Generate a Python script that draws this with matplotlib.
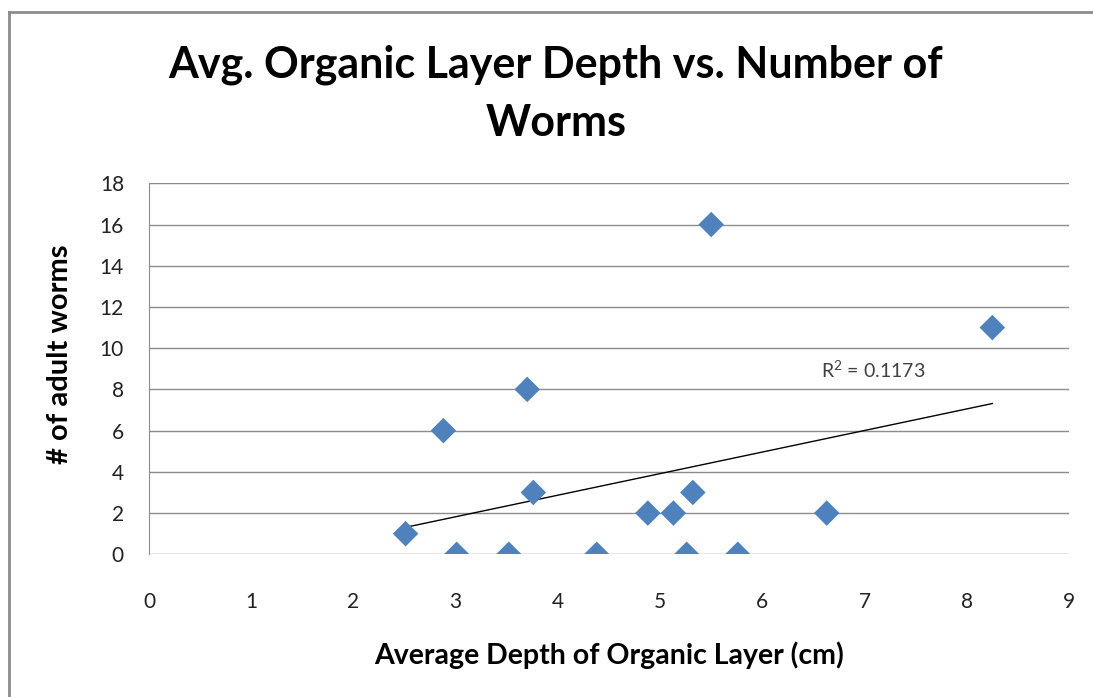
import matplotlib
matplotlib.use("Agg")
import matplotlib.pyplot as plt
import numpy as np
from matplotlib.lines import Line2D

depth = [2.51, 2.88, 3.01, 3.52, 3.70, 3.76, 4.38, 4.88, 5.13, 5.26, 5.32, 5.50, 5.76, 6.63, 8.25]
worms = [1, 6, 0, 0, 8, 3, 0, 2, 2, 0, 3, 16, 0, 2, 11]
x_ticks = list(range(0, 10))
y_ticks = list(range(0, 20, 2))
title = "Avg. Organic Layer Depth vs. Number of\nWorms"
xlabel = "Average Depth of Organic Layer (cm)"
ylabel = "# of adult worms"
r2_label = "R$^2$ = 0.1173"

fam = ["Lato", "DejaVu Sans"]
plt.rcParams['font.family'] = fam
plt.rcParams['mathtext.fontset'] = 'custom'
plt.rcParams['mathtext.rm'] = 'Lato'

W, H = 1093, 697
fig = plt.figure(figsize=(W/100, H/100), dpi=100)
border = "#8c8c8c"
fig.add_artist(Line2D([9/W, 1.0], [1 - 12/H, 1 - 12/H], transform=fig.transFigure, color=border, linewidth=2))
fig.add_artist(Line2D([9/W, 9/W], [0, 1 - 12/H], transform=fig.transFigure, color=border, linewidth=2))

ax = fig.add_axes([149/W, (H-554.3)/H, (1069-149)/W, (554.3-183.3)/H])

ax.scatter(depth, worms, marker="D", s=13**2, color="#4F81BD", edgecolors="none", zorder=3)
xa = np.array(depth); ya = np.array(worms)
m, b = np.polyfit(xa, ya, 1)
xs = np.array([xa.min(), xa.max()])
ax.plot(xs, m*xs + b, color="black", linewidth=1.0, zorder=2)
ax.text(6.57, 8.95, r2_label, fontsize=14, color="#404040", va="center", ha="left")

ax.set_xlim(0, 9)
ax.set_ylim(0, 18)
ax.set_xticks(x_ticks)
ax.set_yticks(y_ticks)
ax.grid(axis="y", color="#8c8c8c", linewidth=1.0)
ax.set_axisbelow(True)
for s in ["top", "right", "bottom"]:
    ax.spines[s].set_visible(False)
ax.spines["left"].set_color("#8c8c8c")
ax.tick_params(length=0, labelsize=15, colors="#222222")
ax.tick_params(axis="x", pad=27)
ax.tick_params(axis="y", pad=18)

fig.text(556/W, 1 - 94/H, title, ha="center", va="center", fontsize=31, fontweight="bold", linespacing=1.55)
fig.text(609/W, 1 - 655/H, xlabel, ha="center", va="center", fontsize=20.5, fontweight="bold")
fig.text(60/W, 1 - 354/H, ylabel, ha="center", va="center", fontsize=21, fontweight="bold", rotation=90)

fig.savefig("out.png", dpi=100)
